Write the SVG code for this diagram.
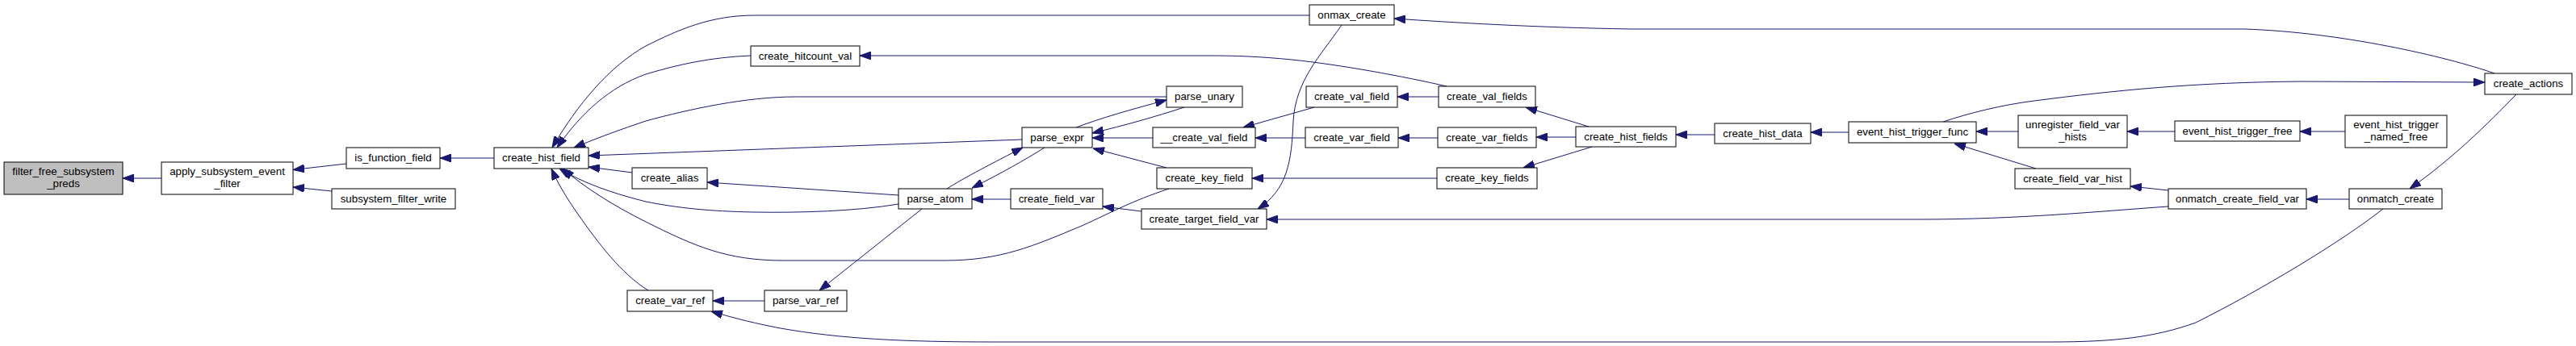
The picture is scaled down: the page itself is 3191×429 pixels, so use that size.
<svg xmlns="http://www.w3.org/2000/svg" width="3191" height="429" viewBox="0 0 3191 429">
<defs>
<marker id="arr" viewBox="0 0 14 10" refX="14" refY="5" markerWidth="14" markerHeight="10" markerUnits="userSpaceOnUse" orient="auto">
<path d="M0,0 L14,5 L0,10 z" fill="#191970" stroke="#191970" stroke-width="1"/>
</marker>
</defs>
<style>
.n rect{fill:#ffffff;stroke:#000000;stroke-width:1}
.n.root rect{fill:#bfbfbf}
.n text{font-family:"Liberation Sans",Arial,sans-serif;font-size:13.3px;fill:#000000;text-anchor:middle}
.e path{fill:none;stroke:#191970;stroke-width:1;marker-end:url(#arr)}
</style>
<rect x="0" y="0" width="3191" height="429" fill="#ffffff"/>
<g id="connectors" class="e">
<path d="M200,221 L152,221"/>
<path d="M429,203 L363,210.5"/>
<path d="M411,237 L363,232"/>
<path d="M612,196 L545,196"/>
<path d="M1622,19 L935,19 C880,19 840,37 800,57 C755,82 715,130 684,183"/>
<path d="M930,69 C880,71 840,80 800,92 C755,108 720,140 690,183"/>
<path d="M1445,120 L985,120 C925,120 855,135 800,150 C770,160 740,171 711,183"/>
<path d="M1266,173 L729,193"/>
<path d="M783,214 L729,207"/>
<path d="M1113,253 C1060,262 990,264 933,263 C880,262 840,258 800,250 C760,240 722,227 693,209"/>
<path d="M1448,234 C1400,250 1380,262 1340,280 C1280,305 1240,323 1170,323 L970,323 C900,323 860,305 800,275 C760,255 725,233 697,209"/>
<path d="M803,360 C770,340 740,300 717,267 C700,243 690,225 683,209"/>
<path d="M1113,242 L876,226"/>
<path d="M1173,234 C1195,220 1230,202 1267,183"/>
<path d="M1294,183 C1270,198 1240,215 1204,233"/>
<path d="M1252,247 L1204,247"/>
<path d="M1142,259 L1015,360"/>
<path d="M947,373 L883,373"/>
<path d="M2952,259 C2900,300 2800,360 2720,400 C2670,418 2620,424 2540,424 L1230,424 C1120,424 1040,420 967,407 C930,400 905,393 881,386"/>
<path d="M1467,133 C1430,145 1395,155 1353,165"/>
<path d="M1333,158 C1365,146 1400,136 1445,124"/>
<path d="M1428,171 L1353,171"/>
<path d="M1445,208 L1354,184"/>
<path d="M1414,262 L1366,256"/>
<path d="M1628,133 L1540,158"/>
<path d="M1617,171 L1555,171"/>
<path d="M1662,31 C1635,70 1605,100 1602,150 C1600,200 1595,235 1558,259"/>
<path d="M1780,221 L1551,221"/>
<path d="M2686,256 C2600,262 2500,272 2380,272 L1569,272"/>
<path d="M1792,107 C1740,95 1660,80 1600,74 C1560,70 1530,69 1500,69 L1065,69"/>
<path d="M1782,120 L1731,120"/>
<path d="M1781,171 L1732,171"/>
<path d="M1968,157 L1890,133"/>
<path d="M1952,170 L1903,170"/>
<path d="M1972,182 L1887,208"/>
<path d="M2124,167 L2076,167"/>
<path d="M2290,164 L2243,164"/>
<path d="M2500,163 L2448,163"/>
<path d="M2522,209 L2421,178"/>
<path d="M2407,151 C2440,140 2480,130 2520,125 C2620,112 2720,102 2850,101 L3078,102"/>
<path d="M3090,91 C3030,70 2900,40 2780,36 L2020,36 C1900,34 1800,28 1727,23"/>
<path d="M3117,117 C3080,155 3040,195 2985,234"/>
<path d="M2694,163 L2635,163"/>
<path d="M2905,163 L2849,163"/>
<path d="M2686,236 L2639,231"/>
<path d="M2910,247 L2857,247"/>
</g>
<g id="filter_free_subsystem_preds" class="n root"><rect x="5" y="201" width="147" height="40"/><text x="78.5" y="217">filter_free_subsystem</text><text x="78.5" y="232">_preds</text></g>
<g id="apply_subsystem_event_filter" class="n"><rect x="200" y="201" width="163" height="40"/><text x="281.5" y="217">apply_subsystem_event</text><text x="281.5" y="232">_filter</text></g>
<g id="is_function_field" class="n"><rect x="429" y="183" width="116" height="26"/><text x="487" y="200">is_function_field</text></g>
<g id="subsystem_filter_write" class="n"><rect x="411" y="234" width="153" height="25"/><text x="487.5" y="251">subsystem_filter_write</text></g>
<g id="create_hist_field" class="n"><rect x="612" y="183" width="117" height="26"/><text x="670.5" y="200">create_hist_field</text></g>
<g id="onmax_create" class="n"><rect x="1622" y="6" width="105" height="25"/><text x="1674.5" y="23">onmax_create</text></g>
<g id="create_hitcount_val" class="n"><rect x="930" y="57" width="135" height="25"/><text x="997.5" y="74">create_hitcount_val</text></g>
<g id="parse_unary" class="n"><rect x="1445" y="107" width="94" height="26"/><text x="1492" y="124">parse_unary</text></g>
<g id="parse_expr" class="n"><rect x="1266" y="158" width="87" height="25"/><text x="1309.5" y="175">parse_expr</text></g>
<g id="create_alias" class="n"><rect x="783" y="208" width="93" height="26"/><text x="829.5" y="225">create_alias</text></g>
<g id="parse_atom" class="n"><rect x="1113" y="234" width="91" height="25"/><text x="1158.5" y="251">parse_atom</text></g>
<g id="create_var_ref" class="n"><rect x="777" y="360" width="106" height="26"/><text x="830" y="377">create_var_ref</text></g>
<g id="parse_var_ref" class="n"><rect x="947" y="360" width="102" height="26"/><text x="998" y="377">parse_var_ref</text></g>
<g id="create_field_var" class="n"><rect x="1252" y="234" width="114" height="25"/><text x="1309" y="251">create_field_var</text></g>
<g id="__create_val_field" class="n"><rect x="1428" y="158" width="127" height="25"/><text x="1491.5" y="175">__create_val_field</text></g>
<g id="create_key_field" class="n"><rect x="1433" y="208" width="118" height="26"/><text x="1492" y="225">create_key_field</text></g>
<g id="create_target_field_var" class="n"><rect x="1414" y="259" width="155" height="25"/><text x="1491.5" y="276">create_target_field_var</text></g>
<g id="create_val_field" class="n"><rect x="1618" y="107" width="113" height="26"/><text x="1674.5" y="124">create_val_field</text></g>
<g id="create_var_field" class="n"><rect x="1617" y="158" width="115" height="25"/><text x="1674.5" y="175">create_var_field</text></g>
<g id="create_val_fields" class="n"><rect x="1782" y="107" width="120" height="26"/><text x="1842" y="124">create_val_fields</text></g>
<g id="create_var_fields" class="n"><rect x="1781" y="158" width="122" height="25"/><text x="1842" y="175">create_var_fields</text></g>
<g id="create_key_fields" class="n"><rect x="1780" y="208" width="124" height="26"/><text x="1842" y="225">create_key_fields</text></g>
<g id="create_hist_fields" class="n"><rect x="1952" y="157" width="124" height="25"/><text x="2014" y="174">create_hist_fields</text></g>
<g id="create_hist_data" class="n"><rect x="2124" y="153" width="119" height="25"/><text x="2183.5" y="170">create_hist_data</text></g>
<g id="event_hist_trigger_func" class="n"><rect x="2290" y="151" width="158" height="26"/><text x="2369" y="168">event_hist_trigger_func</text></g>
<g id="unregister_field_var_hists" class="n"><rect x="2500" y="143" width="135" height="40"/><text x="2567.5" y="159">unregister_field_var</text><text x="2567.5" y="174">_hists</text></g>
<g id="create_field_var_hist" class="n"><rect x="2496" y="209" width="143" height="25"/><text x="2567.5" y="226">create_field_var_hist</text></g>
<g id="event_hist_trigger_free" class="n"><rect x="2694" y="150" width="155" height="25"/><text x="2771.5" y="167">event_hist_trigger_free</text></g>
<g id="onmatch_create_field_var" class="n"><rect x="2686" y="234" width="171" height="25"/><text x="2771.5" y="251">onmatch_create_field_var</text></g>
<g id="event_hist_trigger_named_free" class="n"><rect x="2905" y="143" width="126" height="40"/><text x="2968" y="159">event_hist_trigger</text><text x="2968" y="174">_named_free</text></g>
<g id="onmatch_create" class="n"><rect x="2910" y="234" width="115" height="25"/><text x="2967.5" y="251">onmatch_create</text></g>
<g id="create_actions" class="n"><rect x="3078" y="91" width="108" height="26"/><text x="3132" y="108">create_actions</text></g>
</svg>
